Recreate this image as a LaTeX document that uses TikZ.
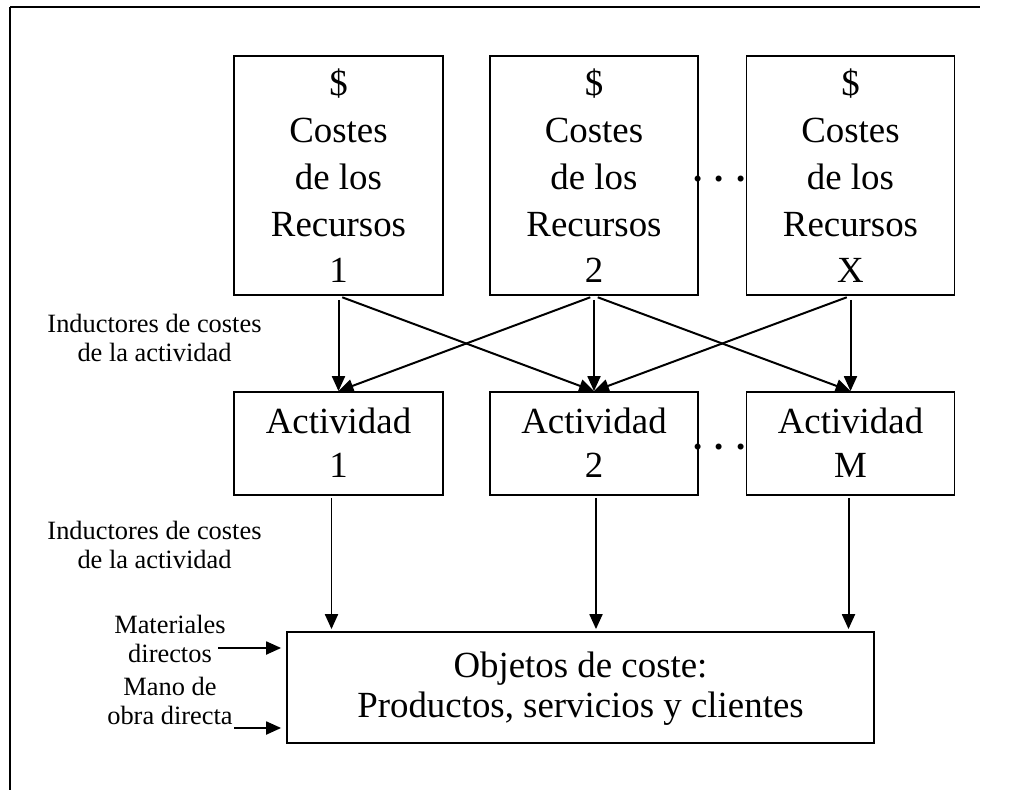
\documentclass[tikz,border=0pt]{standalone}
\usepackage{fontspec}
\setmainfont{Liberation Serif}
\usetikzlibrary{arrows.meta}

% baja el texto de una caja sin cambiar su tamano
\newcommand{\bajar}[2]{\raisebox{-#1}[\height][\depth]{\begin{tabular}{@{}c@{}}#2\end{tabular}}}

\tikzset{
  caja/.style={draw, line width=1.8pt, align=center, inner sep=0pt,
    font=\fontsize{37}{47}\selectfont},
  flecha/.style={line width=2pt, -{Triangle[length=15pt,width=13pt]}},
  etiq/.style={align=center, inner sep=0pt, font=\fontsize{26.5}{30}\selectfont},
  puntos/.style={inner sep=0pt, font=\fontsize{37}{47}\selectfont\bfseries}
}

\begin{document}
\begin{tikzpicture}[x=1bp,y=-1bp]
    \useasboundingbox (0,0) rectangle (1014,790);
    % marco
    \draw[line width=2.5pt] (10,790) -- (10,7);
    \draw[line width=2.5pt] (10,7) -- (980,7);
    % costes de los recursos
    \node[caja, minimum width=209bp, minimum height=239bp] (rec1) at (338.5,175.5)
        {\bajar{4.5pt}{\$\\Costes\\de los\\Recursos\\1}};
    \node[caja, minimum width=208bp, minimum height=239bp] (rec2) at (594,175.5)
        {\bajar{4.5pt}{\$\\Costes\\de los\\Recursos\\2}};
    \node[caja, minimum width=208bp, minimum height=239bp] (recX) at (850.5,175.5)
        {\bajar{4.5pt}{\$\\Costes\\de los\\Recursos\\X}};
    \node[puntos, anchor=base east] (pts1) at (recX.west |- 0,181) {. . .};
    % actividades
    \node[caja, minimum width=209bp, minimum height=103bp,
        font=\fontsize{37}{44}\selectfont] (act1) at (338.5,443.5)
        {\bajar{3pt}{Actividad\\1}};
    \node[caja, minimum width=208bp, minimum height=103bp,
        font=\fontsize{37}{44}\selectfont] (act2) at (594,443.5)
        {\bajar{3pt}{Actividad\\2}};
    \node[caja, minimum width=208bp, minimum height=103bp,
        font=\fontsize{37}{44}\selectfont] (actM) at (850.5,443.5)
        {\bajar{3pt}{Actividad\\M}};
    \node[puntos, anchor=base east] (pts2) at (actM.west |- 0,449) {. . .};
    % objetos de coste
    \node[caja, minimum width=587bp, minimum height=111bp,
        font=\fontsize{37}{40}\selectfont] (obj) at (580.5,687.5)
        {\bajar{2pt}{Objetos de coste:\\Productos, servicios y clientes}};
    % etiquetas
    \node[etiq] (ind1) at (154.5,338) {Inductores de costes\\de la actividad};
    \node[etiq] (ind2) at (154.5,545) {Inductores de costes\\de la actividad};
    \node[etiq] (mat) at (170,639) {Materiales\\directos};
    \node[etiq] (mano) at (170,701) {Mano de\\obra directa};
    % recursos -> actividades
    \draw[flecha, shorten <=4pt] (rec1.south) -- (act1.north);
    \draw[flecha, shorten <=4pt] (rec1.south) -- (act2.north);
    \draw[flecha, shorten <=4pt] (rec2.south) -- (act1.north);
    \draw[flecha, shorten <=4pt] (rec2.south) -- (act2.north);
    \draw[flecha, shorten <=4pt] (rec2.south) -- (actM.north);
    \draw[flecha, shorten <=4pt] (recX.south) -- (act2.north);
    \draw[flecha, shorten <=4pt] (recX.south) -- (actM.north);
    % actividades -> objetos
    \draw[flecha, shorten <=2pt, shorten >=2pt] ([xshift=-7bp]act1.south) -- ([xshift=-7bp]act1.south |- obj.north);
    \draw[flecha, shorten <=2pt, shorten >=2pt] ([xshift=2bp]act2.south) -- ([xshift=2bp]act2.south |- obj.north);
    \draw[flecha, shorten <=2pt, shorten >=2pt] ([xshift=-2bp]actM.south) -- ([xshift=-2bp]actM.south |- obj.north);
    % entradas directas
    \coordinate (m1) at (218,648);
    \coordinate (m2) at (234,728);
    \draw[flecha, shorten >=5pt] (m1) -- (m1 -| obj.west);
    \draw[flecha, shorten >=5pt] (m2) -- (m2 -| obj.west);
\end{tikzpicture}
\end{document}
